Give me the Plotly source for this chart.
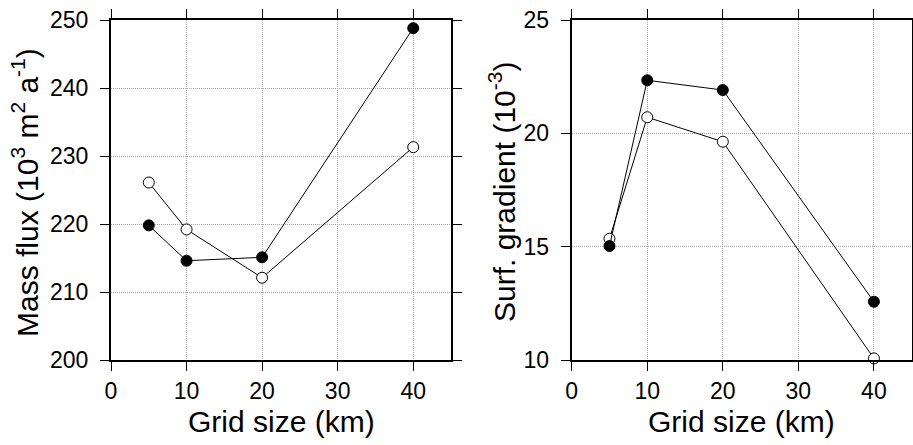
import plotly.graph_objects as go

grid_km = [5, 10, 20, 40]
flux_filled = [219.8, 214.6, 215.1, 248.8]
flux_open = [226.1, 219.2, 212.1, 231.3]
grad_filled = [15.03, 22.34, 21.91, 12.57]
grad_open = [15.35, 20.71, 19.63, 10.07]

W, H = 913, 445
FONT = "Arial"

fig = go.Figure()

def add_series(x, y, xa, ya, fill):
    fig.add_trace(go.Scatter(
        x=x, y=y, xaxis=xa, yaxis=ya, mode="lines+markers",
        line=dict(color="black", width=1),
        marker=dict(size=11, color=fill, line=dict(color="black", width=1)),
        showlegend=False, cliponaxis=False))

add_series(grid_km, flux_open, "x", "y", "white")
add_series(grid_km, flux_filled, "x", "y", "black")
add_series(grid_km, grad_open, "x2", "y2", "white")
add_series(grid_km, grad_filled, "x2", "y2", "black")

axis_common = dict(
    showline=True, linecolor="black", linewidth=2, mirror="allticks",
    ticks="outside", ticklen=9, tickwidth=1, tickcolor="black",
    showgrid=True, gridcolor="#a8a8a8", gridwidth=1, griddash="1px,1px",
    zeroline=False, automargin=False,
    tickfont=dict(family=FONT, size=23, color="black"),
)

y_top = 1 - 20 / H
y_bot = 1 - 360 / H

fig.update_layout(
    template="none",
    width=W, height=H, margin=dict(l=0, r=0, t=0, b=0, pad=0),
    paper_bgcolor="white", plot_bgcolor="white",
    font=dict(family=FONT, color="black"),
    xaxis=dict(domain=[111 / W, 451 / W], range=[0, 45], tickvals=[0, 10, 20, 30, 40],
               anchor="y", **axis_common),
    yaxis=dict(domain=[y_bot, y_top], range=[200, 250], tickvals=[200, 210, 220, 230, 240, 250],
               anchor="x", ticklabelstandoff=7, **axis_common),
    xaxis2=dict(domain=[571.7 / W, 911.7 / W], range=[0, 45], tickvals=[0, 10, 20, 30, 40],
                anchor="y2", **axis_common),
    yaxis2=dict(domain=[y_bot, y_top], range=[10, 25], tickvals=[10, 15, 20, 25],
                anchor="x2", ticklabelstandoff=7, **axis_common),
)

title_font = dict(family=FONT, size=30, color="black")
annots = [
    dict(text="Grid size (km)", x=281 / W, y=1 - 421 / H, textangle=0),
    dict(text="Grid size (km)", x=741.7 / W, y=1 - 421 / H, textangle=0),
    dict(text="Mass flux (10<sup>3</sup> m<sup>2</sup> a<sup>-1</sup>)", x=25 / W, y=1 - 193 / H, textangle=-90),
    dict(text="Surf. gradient (10<sup>-3</sup>)", x=502 / W, y=1 - 192 / H, textangle=-90),
]
for a in annots:
    fig.add_annotation(xref="paper", yref="paper", xanchor="center", yanchor="middle",
                       showarrow=False, font=title_font, **a)

fig.write_html("out.html")
